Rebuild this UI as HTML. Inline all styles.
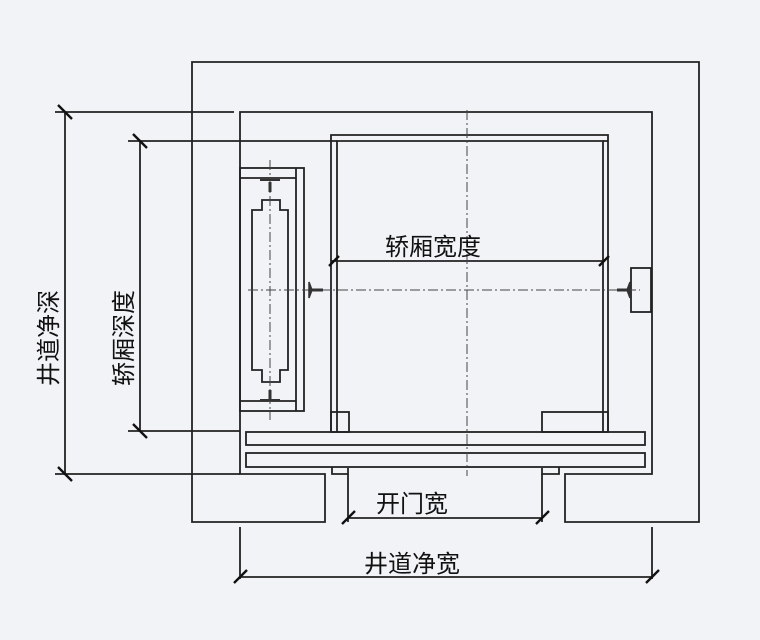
<!DOCTYPE html>
<html><head><meta charset="utf-8"><style>
html,body{margin:0;padding:0;background:#f1f3f6;}
svg{display:block;}
text{font-family:"Liberation Sans","Noto Sans CJK SC",sans-serif;fill:#111;font-size:24px;}
</style></head><body>
<svg width="760" height="640" viewBox="0 0 760 640" xmlns="http://www.w3.org/2000/svg">
<rect width="760" height="640" fill="#f1f3f6"/>
<g fill="none" stroke="#222" stroke-width="1.8">
<path d="M325,522 H192 V62 H699 V522 H565 V474 H652 V112 H240 V474 H325 Z"/>
<path d="M331,432 V135 H608 V432"/>
<path d="M337,432 V141 H603 V432"/>
<path d="M331,141 H337 M603,141 H608"/>
<rect x="331" y="412" width="18" height="20"/>
<rect x="542" y="412" width="66" height="20"/>
<rect x="246" y="432" width="399" height="13"/>
<rect x="246" y="453" width="399" height="14"/>
<path d="M332,467 V474 H348 V468 M542,468 V474 H559 V467"/>
<rect x="240" y="168" width="64" height="243"/>
<path d="M296,168 V411 M240,178 H296 M240,401 H296"/>
<path d="M262,200 H280 V210 H288 V370 H280 V382 H262 V370 H252 V210 H262 Z"/>
<rect x="631" y="268" width="20" height="44"/>
<path d="M55,112 H234 M65,112 V474 M55,474 H240"/>
<path d="M128,141 H331 M140,141 V431 M128,431 H240"/>
<path d="M331,261 H605"/>
<path d="M348,474 V522 M542,474 V522 M348,518 H542"/>
<path d="M240,527 V579 M652,527 V579 M240,577 H652"/>
</g>
<g stroke="#111" stroke-width="2.4">
<path d="M58,105 L72,119 M58,467 L72,481 M133,134 L147,148 M133,424 L147,438"/>
<path d="M329,266 L339,256 M599,266 L609,256"/>
<path d="M342,524 L355,511 M536,524 L549,511"/>
<path d="M234,583 L247,570 M646,583 L659,570"/>
</g>
<g stroke="#444" stroke-width="1" stroke-dasharray="10,3,2,3" fill="none">
<path d="M467,110 V476"/>
<path d="M248,290 H640"/>
<path d="M270,160 V420"/>
</g>
<g fill="#333" stroke="#333" stroke-width="1.5">
<path d="M309,282 L309,298 L312,290 Z"/><path d="M310,290 H323" stroke-width="3"/>
<path d="M630,282 L630,298 L627,290 Z"/><path d="M617,290 H630" stroke-width="3"/>
<path d="M270,182 V192" stroke-width="3"/><path d="M260,180 H280" stroke-width="2"/>
<path d="M270,390 V400" stroke-width="3"/><path d="M260,400 H280" stroke-width="2"/>
</g>
<text x="433" y="255" text-anchor="middle">轿厢宽度</text>
<text x="412" y="512" text-anchor="middle">开门宽</text>
<text x="412" y="572" text-anchor="middle">井道净宽</text>
<text transform="translate(57,338) rotate(-90)" text-anchor="middle">井道净深</text>
<text transform="translate(132,338) rotate(-90)" text-anchor="middle">轿厢深度</text>
</svg>
</body></html>
